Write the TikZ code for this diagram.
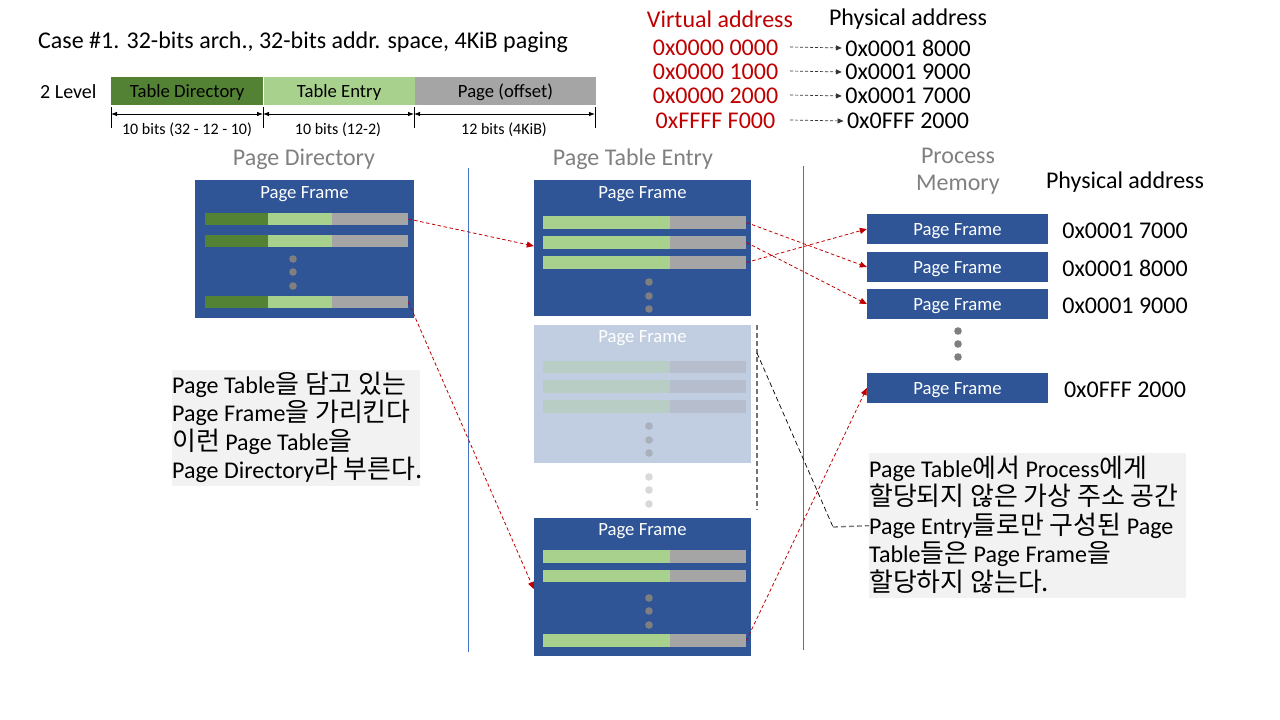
\documentclass[tikz,border=0pt]{standalone}
\usepackage{fontspec}
\setmainfont{Carlito}
\newfontfamily\kr[Scale=1.08]{Noto Sans CJK KR}
\usetikzlibrary{arrows.meta}
\definecolor{frameblue}{HTML}{2F5597}
\definecolor{darkgreen}{HTML}{548235}
\definecolor{lightgreen}{HTML}{A9D18E}
\definecolor{midgray}{HTML}{A5A5A5}
\definecolor{linkred}{HTML}{C00000}
\definecolor{lineblue}{HTML}{4472C4}
\definecolor{headgray}{HTML}{808080}
\definecolor{dotgray}{HTML}{7F7F7F}
\definecolor{fadeblue}{HTML}{C1CDE1}
\definecolor{fadegreen}{HTML}{B8CEC4}
\definecolor{fadegray}{HTML}{B6BDCC}
\definecolor{fadedot}{HTML}{A9AFBB}
\definecolor{notegray}{HTML}{F2F2F2}
\tikzset{
  frame/.style={fill=frameblue, inner sep=0},
  frametext/.style={text=white, text depth=0, font=\fontsize{18.7}{22}\selectfont},
  entry/.style={fill=midgray, minimum height=12.5, minimum width=203, inner sep=0, anchor=west},
  fadeentry/.style={entry, fill=fadegray},
  bar/.style={minimum height=28, inner sep=0, anchor=west, text depth=0, font=\fontsize{18.7}{22}\selectfont},
  bits/.style={font=\fontsize{16}{19}\selectfont},
  head/.style={text=headgray, font=\fontsize{24}{29}\selectfont},
  addr/.style={font=\fontsize{24}{29}\selectfont},
  link/.style={linkred, line width=0.8, dash pattern=on 3.5 off 2.5, -{Triangle[length=7,width=6]}},
  map/.style={black!80, line width=0.7, dash pattern=on 3 off 2, -{Triangle[length=6,width=5]}},
  notebox/.style={fill=notegray, inner sep=0, anchor=north west},
  note/.style={inner sep=0, align=left, anchor=west, font=\fontsize{24}{28.5}\selectfont}
}
\begin{document}
\begin{tikzpicture}[x=1pt,y=-1pt]
  \useasboundingbox (0,0) rectangle (1280,720);
  % address split
  \node[anchor=west, inner sep=0, font=\fontsize{24}{29}\selectfont] (title) at (38,42) {Case \#1. 32-bits arch., 32-bits addr. space, 4KiB paging};
  \node[anchor=west, inner sep=0, font=\fontsize{20}{24}\selectfont] (lvl) at (40,92) {2 Level};
  \node[bar, fill=darkgreen, minimum width=152] (dir) at (111,91) {Table Directory};
  \node[bar, fill=lightgreen, minimum width=151] (ent) at (dir.east) {Table Entry};
  \node[bar, fill=midgray, minimum width=181] (off) at (ent.east) {Page (offset)};
  \foreach \x in {111,263,414,595} \draw[line width=0.6] (\x,107) -- (\x,128);
  \draw[line width=0.8, {Latex[length=6]}-{Latex[length=6]}] (111,114) -- (263,114);
  \draw[line width=0.8, {Latex[length=6]}-{Latex[length=6]}] (263,114) -- (414,114);
  \draw[line width=0.8, {Latex[length=6]}-{Latex[length=6]}] (414,114) -- (595,114);
  \node[bits] (b1) at (187,130) {10 bits (32 - 12 - 10)};
  \node[bits] (b2) at (338,130) {10 bits (12-2)};
  \node[bits] (b3) at (504,130) {12 bits (4KiB)};
  % virtual -> physical
  \node[addr, text=linkred] (vh) at (720,19) {Virtual address};
  \node[addr] (ph) at (908,19) {Physical address};
  \foreach \n/\v/\p/\y in {1/0x0000 0000/0x0001 8000/48,2/0x0000 1000/0x0001 9000/72,3/0x0000 2000/0x0001 7000/96,4/0xFFFF F000/0x0FFF 2000/121} {
    \node[addr, text=linkred] (va\n) at (715.5,\y) {\v};
    \node[addr] (pa\n) at (908,\y) {\p};
  }
  \draw[map] (790,47) -- (pa1.west);
  \draw[map] (790,71) -- (pa2.west);
  \draw[map] (790,95) -- (pa3.west);
  \draw[map] (790,120) -- (pa4.west);
  % column heads
  \node[head] (hpd) at (304,159.5) {Page Directory};
  \node[head] (hpt) at (633,159.5) {Page Table Entry};
  \node[head] (hpm1) at (958,156) {Process};
  \node[head] (hpm2) at (958,185) {Memory};
  \node[addr] (hpa) at (1125,182) {Physical address};
  \draw[lineblue, line width=0.8] (468,168) -- (468,652);
  \draw[lineblue, line width=0.8] (803,166) -- (803,650);
  % page directory
  \node[frame, minimum width=219, minimum height=138] (pd) at (304.5,249) {};
  \node[frametext] at (304.5,192) {Page Frame};
  \foreach \n/\y in {1/219,2/241,3/302} {
    \node[entry] (pd\n) at (205,\y) {};
    \fill[darkgreen] (205,\y-6.25) rectangle (268,\y+6.25);
    \fill[lightgreen] (268,\y-6.25) rectangle (332,\y+6.25);
  }
  \foreach \y in {259,272,286} \fill[dotgray] (293,\y) circle (3.8);
  % page tables
  \node[frame, minimum width=217, minimum height=136] (pt1) at (642.5,248) {};
  \node[frametext] at (642.5,192) {Page Frame};
  \foreach \n/\y in {1/222.5,2/242.5,3/262.5} {
    \node[entry] (pta\n) at (543,\y) {};
    \fill[lightgreen] (543,\y-6.25) rectangle (670,\y+6.25);
  }
  \foreach \y in {282,296,309} \fill[dotgray] (649,\y) circle (3.8);
  \node[frame, fill=fadeblue, minimum width=217, minimum height=138] (pt2) at (642.5,394) {};
  \node[frametext] at (642.5,336) {Page Frame};
  \foreach \n/\y in {1/367,2/386.5,3/406.5} {
    \node[fadeentry] (ptb\n) at (543,\y) {};
    \fill[fadegreen] (543,\y-6.25) rectangle (670,\y+6.25);
  }
  \foreach \y in {426,440,453} \fill[fadedot] (649,\y) circle (3.8);
  \foreach \y in {477,490,504} \fill[black!15] (649,\y) circle (3.8);
  \node[frame, minimum width=217, minimum height=138] (pt3) at (642.5,587) {};
  \node[frametext] at (642.5,529) {Page Frame};
  \foreach \n/\y in {1/556.5,2/576,3/640.5} {
    \node[entry] (ptc\n) at (543,\y) {};
    \fill[lightgreen] (543,\y-6.25) rectangle (670,\y+6.25);
  }
  \foreach \y in {598,611,625} \fill[dotgray] (649,\y) circle (3.8);
  % process memory
  \foreach \n/\y/\a in {1/229/0x0001 7000,2/267/0x0001 8000,3/304/0x0001 9000,4/388/0x0FFF 2000} {
    \node[frame, minimum width=181, minimum height=30, frametext] (pm\n) at (957.5,\y) {Page Frame};
    \node[addr] (pma\n) at (1125,\y+1.5) {\a};
  }
  \foreach \y in {331,344,357} \fill[dotgray] (958,\y) circle (3.8);
  % links
  \draw[link] (pd1.east) -- ([yshift=2]pt1.west);
  \draw[link] (pd3.east) -- ([yshift=-2]pt3.west);
  \draw[link] (pta1.east) -- (pm2.west);
  \draw[link] (pta2.east) -- (pm3.west);
  \draw[link] (pta3.east) -- (pm1.west);
  \draw[link] (ptc3.east) -- (pm4.west);
  % notes
  \node[notebox, minimum width=248, minimum height=116] (n1) at (172,370) {};
  \node[note] (t1) at ([yshift=1]n1.west) {Page Table{\kr 을 담고 있는}\\Page Frame{\kr 을 가리킨다}\\{\kr 이런} Page Table{\kr 을}\\Page Directory{\kr 라 부른다.}};
  \node[notebox, minimum width=317, minimum height=145] (n2) at (869,453) {};
  \node[note] (t2) at ([yshift=1]n2.west) {Page Table{\kr 에서} Process{\kr 에게}\\{\kr 할당되지 않은 가상 주소 공간}\\Page Entry{\kr 들로만 구성된} Page\\Table{\kr 들은} Page Frame{\kr 을}\\{\kr 할당하지 않는다.}};
  \draw[black!55, line width=1.3, dash pattern=on 5 off 3] (757,325) -- (757,510);
  \coordinate (lead) at (757,353);
  \coordinate (bend) at (833,527);
  \draw[black, line width=0.7, dash pattern=on 5 off 3] (lead) -- (bend);
  \draw[black!55, line width=1.3, dash pattern=on 5 off 3] (bend) -- (n2.west);
\end{tikzpicture}
\end{document}
